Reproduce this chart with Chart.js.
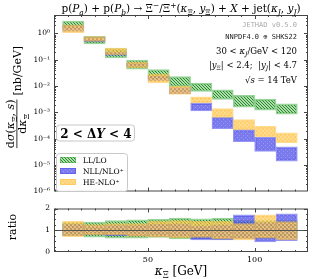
<!DOCTYPE html>
<html>
<head>
<meta charset="utf-8">
<script src="https://cdn.jsdelivr.net/npm/chart.js@4.4.1/dist/chart.umd.min.js"></script>
<style>
  html, body { margin: 0; padding: 0; background: #fff; }
  #wrap { position: relative; width: 312px; height: 279px; }
  canvas { position: absolute; left: 0; }
</style>
</head>
<body>
<div id="wrap">
  <canvas id="main" width="312" height="200" style="top:0"></canvas>
  <canvas id="ratio" width="312" height="79" style="top:200px"></canvas>
</div>
<script>
// bins in kappa_Xi [GeV]: 10-20, ..., 110-120 (centres)
const binCenters = [15, 25, 35, 45, 55, 65, 75, 85, 95, 105, 115];

// d sigma / d kappa [nb/GeV], uncertainty bands (low / high)
const llLow  = [1.6, 0.40, 0.117, 0.044, 0.019, 0.0095, 0.0063, 0.0031, 0.0016, 0.00123, 0.00087];
const llHigh = [2.95, 0.78, 0.263, 0.098, 0.042, 0.023, 0.0129, 0.0072, 0.0045, 0.0032, 0.00214];
const nllLow  = [1.18, 0.48, 0.145, 0.054, 0.016, 0.0052, 0.00115, 0.00024, 0.0000776, 0.000033, 0.0000141];
const nllHigh = [2.0, 0.71, 0.20, 0.076, 0.025, 0.0089, 0.0023, 0.00065, 0.000224, 0.000117, 0.00005];
const heLow  = [1.07, 0.50, 0.155, 0.050, 0.0132, 0.0048, 0.0023, 0.00065, 0.000224, 0.000117, 0.000071];
const heHigh = [2.14, 0.76, 0.275, 0.081, 0.029, 0.010, 0.0039, 0.0014, 0.00054, 0.000295, 0.00017];

// ratio panel bands
const llRatioLow  = [0.75, 0.68, 0.64, 0.64, 0.67, 0.60, 0.60, 0.58, 0.62, 0.62, 0.62];
const llRatioHigh = [1.35, 1.38, 1.45, 1.48, 1.50, 1.56, 1.53, 1.56, 1.45, 1.45, 1.45];
const nllRatioLow  = [0.75, 0.78, 0.75, 0.74, 0.72, 0.68, 0.56, 0.55, 0.60, 0.46, 0.52];
const nllRatioHigh = [1.30, 1.22, 1.25, 1.25, 1.30, 1.30, 1.20, 1.25, 1.71, 1.35, 1.76];
const heRatioLow  = [0.71, 0.79, 0.79, 0.72, 0.68, 0.65, 0.67, 0.60, 0.56, 0.64, 0.56];
const heRatioHigh = [1.41, 1.26, 1.31, 1.31, 1.41, 1.45, 1.41, 1.41, 1.31, 1.71, 1.40];

const seriesNames = ['LL/LO', 'NLL/NLO⁺', 'HE-NLO⁺'];
const yTickValues = [1e-6, 1e-5, 1e-4, 1e-3, 1e-2, 1e-1, 1];
const yTickLabels = ['10⁻⁶', '10⁻⁵', '10⁻⁴', '10⁻³', '10⁻²', '10⁻¹', '10⁰'];
const xTickValues = [50, 100];
const ratioTickValues = [0, 1, 2];

const SERIF = '"DejaVu Serif", serif';
const MONO = '"DejaVu Sans Mono", monospace';

function makePattern(bg, fg, kind) {
  const c = document.createElement('canvas');
  const n = kind === 'hatch' ? 3 : 4;
  c.width = n; c.height = n;
  const g = c.getContext('2d');
  g.fillStyle = bg;
  g.fillRect(0, 0, n, n);
  g.fillStyle = fg;
  if (kind === 'hatch') {
    for (let i = 0; i < n; i++) g.fillRect(i, i, 1, 1);
  } else if (kind === 'grid') {
    g.fillRect(1, 1, 1, 1); g.fillRect(3, 3, 1, 1);
  } else {
    g.fillRect(0, 0, 2, 2); g.fillRect(2, 2, 2, 2);
  }
  return g.createPattern(c, 'repeat');
}

const greenFill = makePattern('rgba(120,200,120,0.6)', 'rgba(30,125,30,0.9)', 'hatch');
const blueFill = makePattern('rgba(70,70,230,0.72)', 'rgba(160,160,255,0.75)', 'grid');
const orangeFill = makePattern('rgba(255,180,30,0.62)', 'rgba(255,230,170,0.5)', 'dots');
const fills = [greenFill, blueFill, orangeFill];
const borders = ['rgba(70,175,70,0.55)', 'rgba(80,80,235,0.6)', 'rgba(255,195,70,0.6)'];

function bands(lows, highs) {
  return binCenters.map((x, i) => ({ x: x, y: [lows[i], highs[i]] }));
}

function makeDatasets(lowsList, highsList) {
  return lowsList.map((lows, k) => ({
    label: seriesNames[k],
    data: bands(lows, highsList[k]),
    backgroundColor: fills[k],
    borderColor: borders[k],
    borderWidth: 1.5,
    borderSkipped: false,
    barPercentage: 1,
    categoryPercentage: 1,
    grouped: false,
    order: 3 - k
  }));
}

function drawRuns(ctx, runs, x, y, align) {
  let w = 0;
  runs.forEach(r => { ctx.font = r[1]; w += ctx.measureText(r[0]).width; });
  let cx = align === 'right' ? x - w : align === 'center' ? x - w / 2 : x;
  runs.forEach(r => {
    ctx.font = r[1];
    ctx.fillText(r[0], cx, y + (r[2] || 0));
    cx += ctx.measureText(r[0]).width;
  });
  return w;
}

function runsWidth(ctx, runs) {
  let w = 0;
  runs.forEach(r => { ctx.font = r[1]; w += ctx.measureText(r[0]).width; });
  return w;
}

function roundBox(ctx, x, y, w, h, r) {
  ctx.beginPath();
  ctx.roundRect(x, y, w, h, r);
  ctx.fillStyle = 'rgba(255,255,255,0.9)';
  ctx.fill();
  ctx.strokeStyle = '#c8c8c8';
  ctx.lineWidth = 1;
  ctx.stroke();
}

// inward ticks and frame
function drawFrame(chart, yMinor, yMajor) {
  const { ctx, chartArea: a, scales } = chart;
  ctx.save();
  ctx.strokeStyle = '#444';
  ctx.lineWidth = 1;
  ctx.beginPath();
  for (let v = 0; v <= 125; v += 6.25) {
    const px = Math.round(scales.x.getPixelForValue(v)) + 0.5;
    if (px < a.left + 1 || px > a.right - 1) continue;
    const len = v % 50 === 0 ? 4 : 2;
    ctx.moveTo(px, a.bottom); ctx.lineTo(px, a.bottom - len);
    ctx.moveTo(px, a.top); ctx.lineTo(px, a.top + len);
  }
  yMinor.forEach(v => {
    const py = Math.round(scales.y.getPixelForValue(v)) + 0.5;
    if (py < a.top + 1 || py > a.bottom - 1) return;
    const len = yMajor.includes(v) ? 4 : 2;
    ctx.moveTo(a.left, py); ctx.lineTo(a.left + len, py);
    ctx.moveTo(a.right, py); ctx.lineTo(a.right - len, py);
  });
  ctx.stroke();
  ctx.strokeRect(a.left + 0.5, a.top + 0.5, a.right - a.left - 1, a.bottom - a.top - 1);
  ctx.restore();
}

const logMinor = [];
yTickValues.forEach(d => { for (let m = 1; m <= 9; m++) logMinor.push(m * d); });
const ratioMinor = [];
for (let v = 0; v <= 2; v += 0.25) ratioMinor.push(v);

const mainDecor = {
  id: 'mainDecor',
  afterDatasetsDraw(chart) {
    const ctx = chart.ctx;
    drawFrame(chart, logMinor, yTickValues);
    ctx.save();
    ctx.fillStyle = '#000';
    ctx.textBaseline = 'alphabetic';
    const R = '10.5px ' + SERIF, I = 'italic 10.5px ' + SERIF;
    const S = '7.5px ' + SERIF, SI = 'italic 7.5px ' + SERIF;
    drawRuns(ctx, [
      ['p(', R], ['P', I], ['a', SI, 2.5], [') + p(', R], ['P', I], ['b', SI, 2.5],
      [') → Ξ', R], ['−', S, -4], ['/', R], ['Ξ̄', R], ['+', S, -4], ['(', R],
      ['κ', I], ['Ξ', S, 2.5], [', ', R], ['y', I], ['Ξ', S, 2.5], [') + ', R],
      ['X', I], [' + jet(', R], ['κ', I], ['J', SI, 2.5], [', ', R], ['y', I],
      ['J', SI, 2.5], [')', R]
    ], 181, 12, 'center');

    // info text, top right
    ctx.fillStyle = '#aaa';
    drawRuns(ctx, [['JETHAD v0.5.0', '7px ' + MONO]], 297, 27, 'right');
    ctx.fillStyle = '#222';
    drawRuns(ctx, [['NNPDF4.0 ⊕ SHKS22', '7px ' + MONO]], 297, 39, 'right');
    ctx.fillStyle = '#000';
    const r = '8.5px ' + SERIF, it = 'italic 8.5px ' + SERIF, s = '6px ' + SERIF, si = 'italic 6px ' + SERIF;
    drawRuns(ctx, [['30 < ', r], ['κ', it], ['J', si, 2], ['/GeV < 120', r]], 297, 54, 'right');
    drawRuns(ctx, [['|', r], ['y', it], ['Ξ', s, 2], ['| < 2.4;  |', r], ['y', it], ['J', si, 2], ['| < 4.7', r]], 297, 68, 'right');
    drawRuns(ctx, [['√', r], ['s', it], [' = 14 TeV', r]], 297, 83, 'right');

    // Delta Y box
    roundBox(ctx, 56.5, 125, 78, 16, 3);
    ctx.fillStyle = '#000';
    drawRuns(ctx, [['2 < Δ', 'bold 12px ' + SERIF], ['Y', 'bold italic 12px ' + SERIF], [' < 4', 'bold 12px ' + SERIF]], 96, 137.5, 'center');

    // legend
    roundBox(ctx, 56.5, 153.5, 71, 38, 3);
    const rows = [160, 171, 182];
    seriesNames.forEach((name, k) => {
      ctx.fillStyle = fills[k];
      ctx.fillRect(60, rows[k] - 3, 16, 6);
      ctx.strokeStyle = borders[k];
      ctx.lineWidth = 1;
      ctx.strokeRect(60.5, rows[k] - 2.5, 15, 5);
      ctx.fillStyle = '#000';
      ctx.font = '7.5px ' + SERIF;
      ctx.fillText(name, 83, rows[k] + 2.5);
    });

    // y axis title
    ctx.save();
    ctx.translate(17, 97);
    ctx.rotate(-Math.PI / 2);
    const F = '11px ' + SERIF, FI = 'italic 11px ' + SERIF, FS = '8px ' + SERIF;
    const num = [['d', F], ['σ', FI], ['(', F], ['κ', FI], ['Ξ', FS, 3], [', ', F], ['s', FI], [')', F]];
    const den = [['d', F], ['κ', FI], ['Ξ', FS, 3]];
    const unit = [['[nb/GeV]', F]];
    const wf = runsWidth(ctx, num), wd = runsWidth(ctx, den), wu = runsWidth(ctx, unit);
    const start = -(wf + 4 + wu) / 2;
    drawRuns(ctx, num, start, -3, 'left');
    drawRuns(ctx, den, start + (wf - wd) / 2, 9, 'left');
    ctx.fillRect(start, -0.5, wf, 0.8);
    drawRuns(ctx, unit, start + wf + 4, 4, 'left');
    ctx.restore();
    ctx.restore();
  }
};

const ratioDecor = {
  id: 'ratioDecor',
  afterDatasetsDraw(chart) {
    const { ctx, chartArea: a, scales } = chart;
    ctx.save();
    const py = Math.round(scales.y.getPixelForValue(1)) + 0.5;
    ctx.strokeStyle = '#555';
    ctx.lineWidth = 1;
    ctx.beginPath();
    ctx.moveTo(a.left, py); ctx.lineTo(a.right, py);
    ctx.stroke();
    ctx.restore();
    drawFrame(chart, ratioMinor, ratioTickValues);
    ctx.save();
    ctx.fillStyle = '#000';
    ctx.translate(16, 27);
    ctx.rotate(-Math.PI / 2);
    drawRuns(ctx, [['ratio', '11px ' + SERIF]], 0, 0, 'center');
    ctx.restore();
    ctx.save();
    ctx.fillStyle = '#000';
    drawRuns(ctx, [['κ', 'italic 12px ' + SERIF], ['Ξ', '8.5px ' + SERIF, 3], [' [GeV]', '12px ' + SERIF]], 181, 75, 'center');
    ctx.restore();
  }
};

const xAxisBase = {
  type: 'linear', min: 6, max: 125, offset: false,
  afterBuildTicks: s => { s.ticks = xTickValues.map(v => ({ value: v })); }
};

new Chart(document.getElementById('main'), {
  type: 'bar',
  data: { datasets: makeDatasets([llLow, nllLow, heLow], [llHigh, nllHigh, heHigh]) },
  options: {
    responsive: false,
    animation: false,
    layout: { padding: { top: 15, right: 4, bottom: 4, left: 0 } },
    plugins: { legend: { display: false }, tooltip: { enabled: false } },
    scales: {
      x: Object.assign({}, xAxisBase, { display: false }),
      y: {
        type: 'logarithmic', min: 1e-6, max: 5,
        grid: { display: false, drawTicks: false }, border: { display: false },
        afterBuildTicks: s => { s.ticks = yTickValues.map(v => ({ value: v })); },
        afterFit: s => { s.width = 54; },
        ticks: {
          padding: 4, color: '#000', font: { family: SERIF, size: 7.5 },
          callback: v => yTickLabels[yTickValues.indexOf(v)]
        }
      }
    }
  },
  plugins: [mainDecor]
});

new Chart(document.getElementById('ratio'), {
  type: 'bar',
  data: { datasets: makeDatasets([llRatioLow, nllRatioLow, heRatioLow], [llRatioHigh, nllRatioHigh, heRatioHigh]) },
  options: {
    responsive: false,
    animation: false,
    layout: { padding: { top: 6, right: 4, bottom: 0, left: 0 } },
    plugins: { legend: { display: false }, tooltip: { enabled: false } },
    scales: {
      x: Object.assign({}, xAxisBase, {
        grid: { display: false, drawTicks: false }, border: { display: false },
        afterFit: s => { s.height = 27; },
        ticks: { padding: 3, color: '#000', maxRotation: 0, font: { family: SERIF, size: 8 } }
      }),
      y: {
        type: 'linear', min: 0, max: 2,
        grid: { display: false, drawTicks: false }, border: { display: false },
        afterBuildTicks: s => { s.ticks = ratioTickValues.map(v => ({ value: v })); },
        afterFit: s => { s.width = 54; },
        ticks: { padding: 4, color: '#000', font: { family: SERIF, size: 7.5 } }
      }
    }
  },
  plugins: [ratioDecor]
});
</script>
</body>
</html>
